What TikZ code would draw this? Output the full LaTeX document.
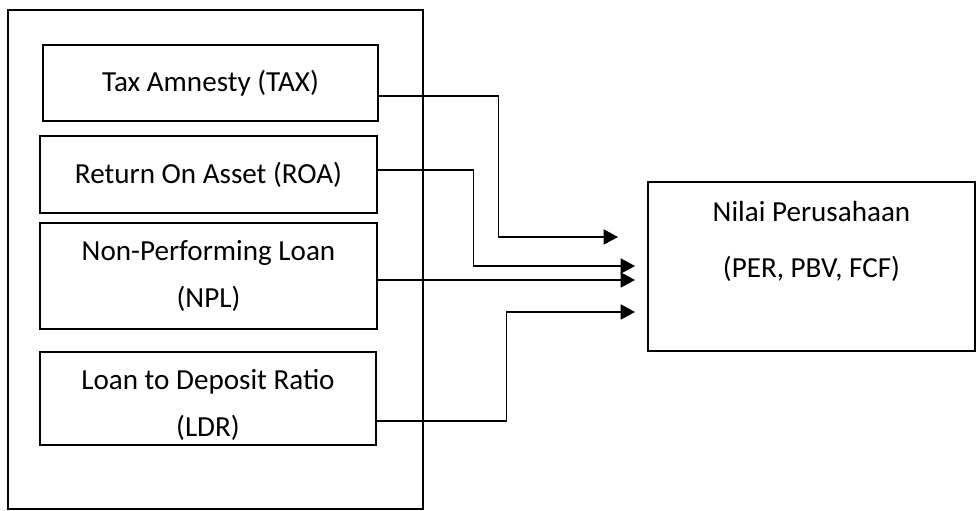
\documentclass[tikz,border=0pt]{standalone}
\usepackage{fontspec}
\setmainfont{Carlito}
\usetikzlibrary{arrows.meta}
\tikzset{
  box/.style={draw, line width=1.3pt, inner sep=0pt, align=center,
    font=\fontsize{20.7}{34}\selectfont},
  link/.style={line width=0.75pt, -{Triangle[length=0.36cm,width=0.38cm]}}
}
\begin{document}
\begin{tikzpicture}[x=0.025cm, y=-0.025cm]
  \useasboundingbox (0,0) rectangle (976,511);
  \node[box, minimum width=10.375cm, minimum height=12.475cm] (group) at (215.5,259.5) {};
  \node[box, minimum width=8.375cm, minimum height=1.9cm] (tax) at (210.5,83) {Tax Amnesty (TAX)};
  \node[box, minimum width=8.425cm, minimum height=1.925cm] (roa) at (208.5,174.5) {Return On Asset (ROA)};
  \node[box, minimum width=8.425cm, minimum height=2.65cm] (npl) at (208.5,276) {Non-Performing Loan\\(NPL)};
  \node[box, minimum width=8.4cm, minimum height=2.325cm] (ldr) at (208,398.5) {};
  \node[font=\fontsize{20.7}{33}\selectfont, align=center] (ldrtext) at (208,405) {Loan to Deposit Ratio\\(LDR)};
  \node[box, minimum width=8.175cm, minimum height=4.225cm] (value) at (811.5,266.5) {};
  \node[font=\fontsize{20.7}{40}\selectfont, align=center] (valuetext) at (811.5,241.5) {Nilai Perusahaan\\(PER, PBV, FCF)};
  \coordinate (taxin) at (618,237);
  \coordinate (roain) at (635,266);
  \coordinate (nplin) at (635,280);
  \coordinate (ldrin) at (635,312);
  \begin{scope}[link]
    \draw ([shift={(0,13)}]tax.east) -- ++(120,0) |- (taxin);
    \draw ([shift={(0,-4.5)}]roa.east) -- ++(96,0) |- (roain);
    \draw (nplin -| npl.east) -- (nplin);
    \draw ([shift={(0,22.5)}]ldr.east) -- ++(130,0) |- (ldrin);
  \end{scope}
\end{tikzpicture}
\end{document}
